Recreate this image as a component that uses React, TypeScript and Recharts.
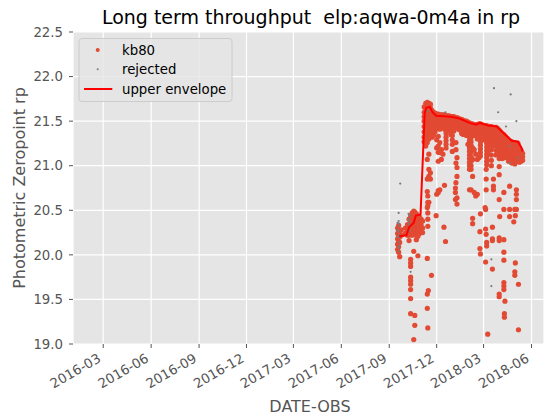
import React from "react";
import { ScatterChart, Scatter, XAxis, YAxis, CartesianGrid } from "recharts";

const xTickDates = ["2016-03-01", "2016-06-01", "2016-09-01", "2016-12-01", "2017-03-01", "2017-06-01", "2017-09-01", "2017-12-01", "2018-03-01", "2018-06-01"];
const xTickLabels = ["2016-03", "2016-06", "2016-09", "2016-12", "2017-03", "2017-06", "2017-09", "2017-12", "2018-03", "2018-06"];
const xDomainDates = ["2016-01-03", "2018-06-25"];
const yTicks = [19.0, 19.5, 20.0, 20.5, 21.0, 21.5, 22.0, 22.5];

const kb80Groups: [string, number[]][] = [
  ["2017-09-17", [20.30, 20.24, 20.18, 20.12, 20.06]],
  ["2017-09-19", [20.33, 20.27, 20.21, 20.15, 20.09, 20.03]],
  ["2017-09-21", [20.26, 20.20, 20.14, 19.98]],
  ["2017-09-24", [20.22, 20.28]],
  ["2017-10-02", [20.24, 20.30]],
  ["2017-10-06", [20.22, 20.28, 20.34]],
  ["2017-10-09", [20.40, 20.34, 20.28, 20.22, 20.16]],
  ["2017-10-12", [20.44, 20.38, 20.32, 20.26, 19.95, 19.91, 19.87, 19.75, 19.71, 19.67, 19.61, 19.51, 19.34]],
  ["2017-10-15", [20.47, 20.40, 20.34, 20.28, 20.22]],
  ["2017-10-18", [20.49, 20.43, 20.37, 20.31, 20.25, 20.04, 19.05]],
  ["2017-10-20", [20.48, 20.42, 20.36, 20.29, 19.32, 19.21]],
  ["2017-10-23", [20.46, 20.40, 20.34, 20.28, 20.22, 20.17]],
  ["2017-10-26", [20.44, 20.38, 20.32, 20.27, 20.21, 19.99]],
  ["2017-10-29", [20.42, 20.36, 20.30, 20.24]],
  ["2017-11-01", [20.40, 20.34, 20.28]],
  ["2017-11-04", [20.38, 20.30, 20.25]],
  ["2017-11-07", [21.66, 21.60, 21.55, 21.50, 21.44, 21.38, 21.32, 21.27]],
  ["2017-11-10", [21.70, 21.66, 21.62, 21.58, 21.53, 21.48, 21.43, 21.38, 21.33, 21.28, 21.22]],
  ["2017-11-13", [21.71, 21.67, 21.63, 21.59, 21.55, 21.50, 21.46, 21.41, 21.36, 21.31, 21.26, 21.07, 20.85, 20.71, 20.53, 19.96, 19.56, 19.40]],
  ["2017-11-14", [20.66, 20.59, 20.55, 20.47, 20.40, 20.32, 19.18]],
  ["2017-11-15", [19.60, 20.86]],
  ["2017-11-16", [21.70, 21.66, 21.62, 21.58, 21.54, 21.50, 21.45, 21.40, 21.35, 21.30, 21.13, 20.96, 20.88, 20.59]],
  ["2017-11-19", [21.69, 21.65, 21.61, 21.57, 21.53, 21.48, 21.43, 21.38, 21.33, 20.92, 20.85]],
  ["2017-11-21", [19.77]],
  ["2017-11-22", [21.62, 21.58, 21.54, 21.50, 21.46, 21.42, 21.37, 21.32]],
  ["2017-11-25", [21.60, 21.56, 21.52, 21.48, 21.44, 21.40, 21.34]],
  ["2017-11-28", [21.59, 21.55, 21.51, 21.47, 21.43, 21.38]],
  ["2017-11-30", [20.44]],
  ["2017-12-01", [21.58, 21.54, 21.50, 21.46, 21.42, 21.29, 21.20, 20.68]],
  ["2017-12-04", [21.58, 21.54, 21.50, 21.46, 21.43, 21.33, 21.22, 21.15, 21.05, 20.72, 20.70]],
  ["2017-12-07", [21.57, 21.53, 21.49, 21.45, 21.41, 21.26, 21.15, 20.73]],
  ["2017-12-10", [21.57, 21.53, 21.49, 21.45, 21.18, 21.07]],
  ["2017-12-13", [21.57, 21.53, 21.49, 21.45, 21.13]],
  ["2017-12-15", [20.31]],
  ["2017-12-16", [21.57, 21.53, 21.49, 21.45, 21.41, 20.78]],
  ["2017-12-18", [20.15]],
  ["2017-12-19", [21.56, 21.52, 21.48, 21.44, 21.40, 21.36, 21.32, 21.28, 21.24, 21.20]],
  ["2017-12-22", [21.56, 21.52, 21.48, 21.44, 21.40]],
  ["2017-12-25", [21.56, 21.52, 21.48, 21.44, 21.40]],
  ["2017-12-28", [21.55, 21.51, 21.47, 21.43, 21.39, 21.35]],
  ["2017-12-31", [21.55, 21.51, 21.47, 21.43, 21.39, 21.34, 21.29, 21.24, 21.16]],
  ["2018-01-03", [21.55, 21.51, 21.47, 21.43, 21.39]],
  ["2018-01-06", [21.54, 21.50, 21.46, 21.42, 20.75, 20.70, 20.62]],
  ["2018-01-07", [21.26, 21.18, 21.03, 20.81]],
  ["2018-01-09", [21.54, 21.50, 21.46, 21.42, 21.09, 20.98, 20.88, 20.64, 20.57]],
  ["2018-01-12", [21.53, 21.49, 21.45, 21.41]],
  ["2018-01-15", [21.52, 21.48, 21.44, 21.40]],
  ["2018-01-18", [21.52, 21.48, 21.44, 21.40, 21.36]],
  ["2018-01-21", [21.51, 21.47, 21.43, 21.39, 21.35]],
  ["2018-01-24", [21.50, 21.46, 21.42, 21.38]],
  ["2018-01-27", [21.50, 21.46, 21.42, 21.38, 21.34]],
  ["2018-01-30", [21.49, 21.45, 21.41, 21.37, 21.24]],
  ["2018-02-02", [21.48, 21.44, 21.40, 21.36, 21.32, 21.28, 21.24, 21.20, 21.16, 21.12, 21.08, 21.04, 21.00, 20.96, 20.73]],
  ["2018-02-05", [21.47, 21.43, 21.39, 21.35, 21.31, 21.27, 21.23, 21.19, 21.15, 21.10, 21.05, 21.00, 20.96, 20.73]],
  ["2018-02-08", [21.47, 21.43, 21.39, 21.35, 21.20, 21.07, 20.88, 20.41, 20.35]],
  ["2018-02-11", [21.46, 21.42, 21.38, 21.34, 21.18, 20.70]],
  ["2018-02-14", [21.46, 21.42, 21.38, 21.34, 21.13, 20.66]],
  ["2018-02-17", [21.46, 21.42, 21.38, 21.34, 21.30, 21.07, 20.68]],
  ["2018-02-20", [21.47, 21.43, 21.39, 21.35, 21.31, 21.09]],
  ["2018-02-22", [20.26, 20.07]],
  ["2018-02-23", [21.47, 21.43, 21.39, 21.35, 21.31, 21.27, 21.23, 21.19, 21.15, 21.11, 20.46, 20.01]],
  ["2018-02-26", [21.46, 21.42, 21.38, 21.34, 21.30]],
  ["2018-03-01", [21.45, 21.41, 21.37, 21.33, 21.29]],
  ["2018-03-04", [21.45, 21.41, 21.37, 21.33, 21.29, 20.53]],
  ["2018-03-05", [20.51, 20.29, 19.92]],
  ["2018-03-06", [20.96, 20.85, 20.73, 20.23]],
  ["2018-03-07", [21.45, 21.41, 21.37, 21.33, 21.29, 21.25, 21.21, 21.17, 21.13, 21.09, 21.05, 21.01, 20.14, 20.10]],
  ["2018-03-09", [19.11]],
  ["2018-03-10", [21.44, 21.40, 21.36, 21.32, 21.28, 21.22, 21.16]],
  ["2018-03-13", [21.44, 21.40, 21.36, 21.32, 21.28]],
  ["2018-03-16", [21.44, 21.40, 21.36, 21.32, 21.28, 21.24, 21.18, 21.12, 21.06, 21.00]],
  ["2018-03-18", [20.31, 20.18, 20.16, 19.84]],
  ["2018-03-19", [21.43, 21.39, 21.35, 21.31, 21.27, 21.22]],
  ["2018-03-20", [20.85, 20.77, 20.73]],
  ["2018-03-22", [21.43, 21.39, 21.35, 21.31]],
  ["2018-03-25", [21.43, 21.39, 21.35, 21.31, 21.27, 21.22, 21.17, 21.12]],
  ["2018-03-28", [21.42, 21.38, 21.34, 21.30, 21.26, 21.22, 21.18, 21.13]],
  ["2018-03-31", [21.40, 21.36, 21.32, 21.28, 21.24, 21.20, 21.16, 21.12, 21.08, 20.99, 20.90, 20.62, 20.19, 20.16, 19.56, 19.53]],
  ["2018-04-01", [20.43]],
  ["2018-04-03", [21.38, 21.34, 21.30, 21.26, 21.22, 21.18, 21.14]],
  ["2018-04-06", [21.36, 21.32, 21.28, 21.24, 21.20, 21.16, 21.12, 21.08]],
  ["2018-04-09", [21.35, 21.31, 21.27, 21.23, 21.19, 21.15, 21.10, 20.70, 20.51, 20.17, 20.03, 19.94, 19.69, 19.65, 19.61]],
  ["2018-04-10", [19.34, 19.30]],
  ["2018-04-11", [19.48]],
  ["2018-04-12", [21.33, 21.29, 21.25, 21.21, 21.17, 21.13, 21.09]],
  ["2018-04-15", [21.31, 21.27, 21.23, 21.19, 21.15, 21.11]],
  ["2018-04-18", [21.29, 21.25, 21.21, 21.17, 21.13, 21.09, 21.05]],
  ["2018-04-20", [20.77, 20.51, 20.43]],
  ["2018-04-21", [21.28, 21.24, 21.20, 21.16, 21.12, 21.08]],
  ["2018-04-24", [21.27, 21.23, 21.19, 21.15, 21.11, 21.07, 21.03]],
  ["2018-04-27", [21.26, 21.22, 21.18, 21.14, 21.10, 21.06]],
  ["2018-04-28", [20.37]],
  ["2018-04-30", [21.26, 21.22, 21.18, 21.14, 21.10, 21.06, 21.02, 20.51, 19.81, 19.77]],
  ["2018-05-01", [20.44, 19.91]],
  ["2018-05-03", [21.25, 21.21, 21.17, 21.13, 21.09, 21.05, 20.73, 20.68, 20.62, 20.51]],
  ["2018-05-06", [21.25, 21.21, 21.17, 21.13, 21.09, 21.05]],
  ["2018-05-07", [19.67, 19.16]],
  ["2018-05-09", [21.20, 21.16, 21.12, 21.08, 21.04]],
  ["2018-05-12", [21.17, 21.13, 21.09, 21.05]],
  ["2018-05-15", [21.14, 21.10, 21.06]],
];

const rejectedGroups: [string, number[]][] = [
  ["2017-09-17", [20.36, 20.28, 20.20]],
  ["2017-09-19", [20.47, 20.38, 20.32, 20.26, 20.20, 20.14, 20.08, 20.04]],
  ["2017-09-20", [20.35, 20.22, 20.10]],
  ["2017-09-22", [20.80]],
  ["2017-10-08", [20.46, 20.40, 20.35, 20.30]],
  ["2017-10-10", [20.44, 20.38, 20.33, 20.27]],
  ["2017-10-12", [19.81]],
  ["2017-11-14", [21.61]],
  ["2017-12-18", [21.60]],
  ["2018-03-16", [19.95, 19.65]],
  ["2018-03-21", [21.87]],
  ["2018-03-29", [21.60]],
  ["2018-04-13", [21.44]],
  ["2018-04-20", [21.22, 21.03]],
  ["2018-04-22", [21.80]],
  ["2018-05-03", [21.50]],
  ["2018-05-06", [21.09, 21.27]],
];

const envelopeDates = ["2017-09-20", "2017-10-04", "2017-10-09", "2017-10-18", "2017-10-22", "2017-10-31", "2017-11-08", "2017-11-11", "2017-11-18", "2017-11-23", "2017-11-30", "2017-12-29", "2018-01-14", "2018-02-02", "2018-02-15", "2018-02-22", "2018-03-10", "2018-03-26", "2018-04-11", "2018-04-24", "2018-05-06", "2018-05-13", "2018-05-15"];
const envelopeValues = [20.21, 20.22, 20.31, 20.36, 20.44, 20.45, 21.59, 21.65, 21.66, 21.60, 21.56, 21.55, 21.53, 21.48, 21.46, 21.48, 21.45, 21.44, 21.35, 21.28, 21.27, 21.20, 21.16];

const toTime = (d: string) => Date.parse(d + "T00:00:00Z");
const flatten = (groups: [string, number[]][]) =>
  groups.flatMap(([d, vs]) => vs.map((v) => ({ x: toTime(d), y: v })));

const kb80Data = flatten(kb80Groups);
const rejectedData = flatten(rejectedGroups);
const envelopeData = envelopeDates.map((d, i) => ({ x: toTime(d), y: envelopeValues[i] }));
const xTicks = xTickDates.map(toTime);

const FONT = "'DejaVu Sans', sans-serif";
const GREY = "#555555";

const XTick = (props: any) => {
  const { x, y, payload } = props;
  const idx = xTicks.indexOf(payload.value);
  const label = idx >= 0 ? xTickLabels[idx] : "";
  return (
    <g transform={`translate(${x - 1.5},${y + 11}) rotate(-30)`}>
      <text x={0} y={0} textAnchor="end" fill={GREY} fontSize={13.3} fontFamily={FONT}>
        {label}
      </text>
    </g>
  );
};

const RedDot = (p: any) => <circle cx={p.cx} cy={p.cy} r={2.6} fill="#E24A33" />;
const GreyDot = (p: any) => <circle cx={p.cx} cy={p.cy} r={1.1} fill="#7a7a7a" />;
const NoDot = () => <g />;

export default function App() {
  return (
    <div style={{ position: "absolute", left: 0, top: 0, width: 544, height: 419, background: "#fff" }}>
      <ScatterChart width={544} height={419} margin={{ top: 32, right: 0, bottom: 0, left: 0 }}>
        <CartesianGrid fill="#E5E5E5" stroke="#FFFFFF" strokeWidth={1.2} />
        <XAxis
          type="number"
          dataKey="x"
          domain={[toTime(xDomainDates[0]), toTime(xDomainDates[1])]}
          ticks={xTicks}
          interval={0}
          allowDataOverflow
          height={75}
          axisLine={false}
          tickSize={4}
          tickLine={{ stroke: GREY }}
          tick={(p: any) => <XTick {...p} />}
        />
        <YAxis
          type="number"
          dataKey="y"
          domain={[19, 22.5]}
          ticks={yTicks}
          interval={0}
          allowDataOverflow
          width={73}
          axisLine={false}
          tickSize={4}
          tickMargin={6}
          tickLine={{ stroke: GREY }}
          tickFormatter={(v: number) => v.toFixed(1)}
          tick={{ fill: GREY, fontSize: 13.3, fontFamily: FONT }}
        />
        <Scatter data={kb80Data} shape={RedDot} isAnimationActive={false} />
        <Scatter data={rejectedData} shape={GreyDot} isAnimationActive={false} />
        <Scatter
          data={envelopeData}
          shape={NoDot}
          line={{ stroke: "#FF0000", strokeWidth: 2 }}
          isAnimationActive={false}
        />
      </ScatterChart>
      <svg width={544} height={419} style={{ position: "absolute", left: 0, top: 0, pointerEvents: "none" }}>
        <text x={311} y={24} textAnchor="middle" fontSize={19} fontFamily={FONT} fill="#000" style={{ whiteSpace: "pre" }}>
          {"Long term throughput  elp:aqwa-0m4a in rp"}
        </text>
        <text x={310} y={411.5} textAnchor="middle" fontSize={16} fontFamily={FONT} fill={GREY}>
          DATE-OBS
        </text>
        <text transform="translate(24.5,188) rotate(-90)" textAnchor="middle" fontSize={16} fontFamily={FONT} fill={GREY}>
          Photometric Zeropoint rp
        </text>
        <rect x={79} y={38.5} width={153} height={63} rx={3} fill="rgba(229,229,229,0.8)" stroke="#CCCCCC" strokeWidth={1} />
        <circle cx={97.7} cy={50} r={2} fill="#E24A33" />
        <circle cx={97.7} cy={69.3} r={1} fill="#7a7a7a" />
        <line x1={84} y1={89} x2={112.3} y2={89} stroke="#FF0000" strokeWidth={2} />
        <text x={122} y={54.8} fontSize={13.3} fontFamily={FONT} fill="#000">kb80</text>
        <text x={122} y={74.1} fontSize={13.3} fontFamily={FONT} fill="#000">rejected</text>
        <text x={122} y={94} fontSize={13.3} fontFamily={FONT} fill="#000">upper envelope</text>
      </svg>
    </div>
  );
}
